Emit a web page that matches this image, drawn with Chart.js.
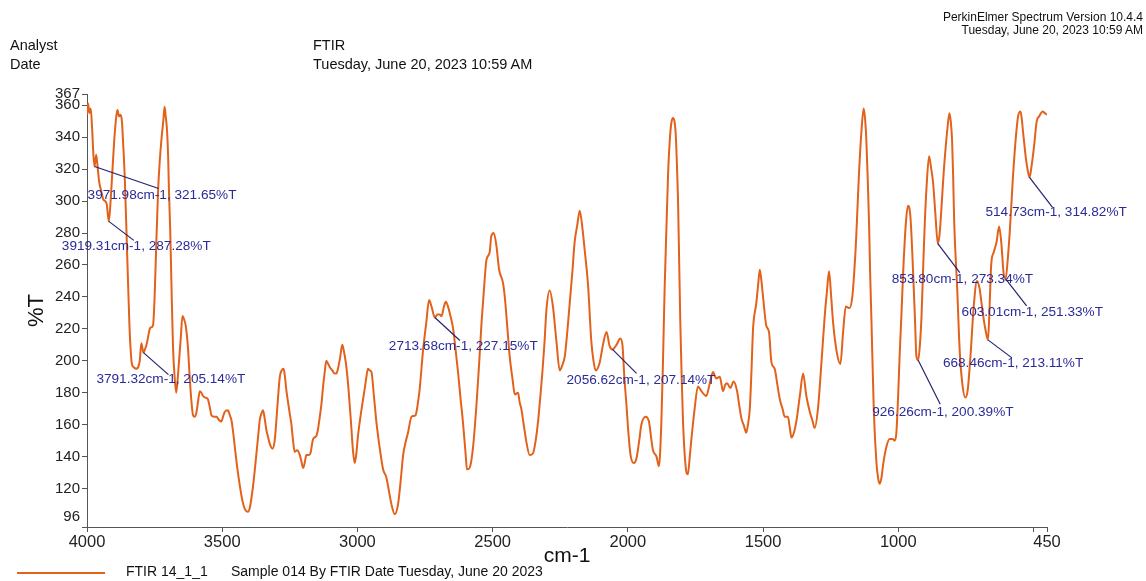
<!DOCTYPE html>
<html>
<head>
<meta charset="utf-8">
<script src="https://cdn.jsdelivr.net/npm/chart.js@4.4.1/dist/chart.umd.min.js"></script>
<style>
  html, body { margin:0; padding:0; background:#fff; }
  #wrap { position:relative; width:1146px; height:581px; overflow:hidden; font-family:"Liberation Sans", Arial, sans-serif; color:#111; }
  #c { position:absolute; left:0; top:0; }
  .t { position:absolute; white-space:nowrap; }
  .hdr { font-size:14.5px; line-height:16px; }
  .sm { font-size:12px; line-height:13px; right:3px; text-align:right; }
  .lg { font-size:14px; line-height:16px; }
</style>
</head>
<body>
<div id="wrap">
  <canvas id="c" width="1146" height="581"></canvas>
  <div class="t sm" style="top:11px">PerkinElmer Spectrum Version 10.4.4</div>
  <div class="t sm" style="top:24px">Tuesday, June 20, 2023 10:59 AM</div>
  <div class="t hdr" style="left:10px; top:37px">Analyst</div>
  <div class="t hdr" style="left:10px; top:56px">Date</div>
  <div class="t hdr" style="left:313px; top:37px">FTIR</div>
  <div class="t hdr" style="left:313px; top:56px">Tuesday, June 20, 2023 10:59 AM</div>
  <div style="position:absolute; left:17px; top:572px; width:88px; height:2px; background:#e2621b"></div>
  <div class="t lg" style="left:126px; top:563px">FTIR 14_1_1</div>
  <div class="t lg" style="left:231px; top:563px">Sample 014 By FTIR Date Tuesday, June 20 2023</div>
</div>
<script>
// ---- data ----
const wavenumbers = [4000,3996,3991,3986,3981,3976,3971.98,3966,3961,3955,3947,3940,3933,3927,3919.31,3912,3905,3898,3891,3887,3882,3876,3871,3866,3860,3853,3848,3843,3839,3834,3827,3819,3811,3805,3799,3791.32,3786,3780,3774,3768,3762,3756,3750,3744,3737,3731,3725,3718,3713,3709,3704,3700,3697,3692,3688,3682,3676,3670,3665,3660,3653,3647,3641,3635,3627,3620,3614,3608,3602,3595,3589,3583,3577,3571,3562,3553,3546,3540,3530,3521,3512,3503,3497,3491,3479,3472,3466,3460,3454,3445,3435,3426,3417,3405,3398,3392,3383,3374,3367,3361,3355,3349,3343,3337,3330,3324,3314,3306,3300,3294,3287,3280,3273,3268,3263,3253,3244,3238,3232,3223,3213,3207,3201,3195,3189,3181,3174,3164,3152,3146,3140,3133,3127,3121,3115,3108,3102,3093,3084,3078,3072,3064,3056,3050,3043,3037,3031,3024,3016,3010,3004,2998,2988,2979,2970,2961,2955,2948,2939,2930,2918,2905,2893,2883,2874,2862,2850,2840,2831,2822,2813,2800,2785,2776,2770,2757,2746,2735,2726,2713.68,2704,2696,2689,2680,2673,2665,2656,2646,2637,2628,2619,2610,2600,2595,2585,2573,2560,2550,2541,2532,2523,2511,2505,2496,2486,2476,2462,2455,2449,2437,2426,2418,2406,2400,2394,2385,2375,2363,2351,2341,2332,2324,2316,2308,2301,2289,2277,2264,2252,2243,2233,2224,2215,2205,2197,2187,2178,2168,2160,2147,2135,2127,2119,2104,2092,2079,2067,2056.62,2042,2028,2020,2013,2005,1998,1990,1978,1968,1958,1950,1934,1922,1914,1907,1894,1885,1876,1870,1864,1857,1851,1845,1839,1833,1823,1819,1814,1810,1806,1801,1796,1790,1783,1778,1771,1765,1753,1741,1728,1710,1697,1685,1673,1660,1648,1640,1633,1621,1609,1596,1588,1580,1570,1562,1556,1549,1543,1537,1525,1518,1512,1506,1500,1488,1478,1469,1457,1447,1438,1428,1420,1408,1401,1395,1386,1377,1364,1352,1340,1327,1318,1309,1297,1284,1272,1264,1256,1248,1241,1227,1214,1204,1194,1180,1170,1163,1157,1151,1145,1136,1128,1123,1118,1113,1108,1104,1099,1091,1081,1075,1069,1062,1056,1044,1032,1020,1013,1007,1000,995,988,982,972,964,955,945,938,933,926.26,920,914,908,902,895,886,878,871,862,853.80,848,844,838,832,825,819,811,806,801,797,793,782,773,764,752,743,733,721,709,699,692,684,677,668.46,664,660,656,647,637,627,619,610,603.01,594,588,582,576,569,563,557,548,543,539,534,529,522,514.73,507,498,488,479,466,458,450];
const transmittance = [354,361,355,358,345,328,321.65,329,322,312,306,301,300,298,287.28,302,322,341,354,357,353,354,350,335,313,275,248,222,208,198,196,195,196,200,211,205.14,207,210,215,220,221,222,240,272,307,325,338,350,359,353,344,328,307,280,250,209,190,180,188,199,215,228,226,222,209,189,175,166,165,168,175,181,180,178,177,176,171,166,165,165,163,162,165,168,169,166,163,156,147,134,122,113,107.5,105.5,108,114,126,141,153,163,167,169,164,157,152,148,145,150,162,176,190,194,195,190,182,170,160,150,143,144,141,137,133,136,141,141,142,151,153,157,164,173,184,193,200,198,196,194,192,192,195,202,210,206,199,190,178,162,143,136,142,153,166,176,186,195,194,193,178,162,146,132,127,118,110,104,110,125,141,149,155,165,166,174,182,207,223,238,234,227.15,229,229,228,234,237,234,228,220,207,193,177,162,142,132,133,145,172,198,224,245,263,268,278,280,272,257,249,240,228,203,188,179,180,174,170,160,149,141,142,150,162,177,193,212,232,244,234,212,194,197,203,218,236,256,274,285,294,283,270,247,212,200,194,199,210,218,209,207.14,210,214,210,190,172,155,141,136,139,150,160,165,162,152,144,140,134,162,200,245,285,318,338,349,352,342,325,297,260,224,190,162,142,130,129,140,151,170,184,181,178,186,193,189,190,181,185,186,183,187,181,172,164,159,155,160,170,193,220,236,248,257,250,240,222,218,199,195,185,176,170,165,165,158,152,155,162,178,192,178,168,163,158,170,199,228,243,256,240,224,205,198,218,234,233,240,255,272,295,318,344,358,352,338,314,286,255,224,172,137,127,123,127,135,146,151,151,150,155,180,203,230,255,286,297,290,255,225,203,200.39,210,228,258,286,310,328,320,311,290,273.34,278,286,302,318,333,344,355,350,338,315,286,245,207,187,177,182,203,234,250,245,236,226,219,213.11,226,245,261,268,274,284,274,254,251.33,266,280,297,315,332,344,353,356,351,344,336,328,320,314.82,322,334,350,353,356,355,354];

const xTickValues = [4000,3500,3000,2500,2000,1500,1000,500,450];
const xTickLabels = ['4000','3500','3000','2500','2000','1500','1000','','450'];
const yTickValues = [96,120,140,160,180,200,220,240,260,280,300,320,340,360,367];
const yTickLabels = ['96','120','140','160','180','200','220','240','260','280','300','320','340','360','367'];

// peak annotations
const peakWavenumbers = [3971.98,3919.31,3791.32,2713.68,2056.62,926.26,853.80,668.46,603.01,514.73];
const peakTransmittance = [321.65,287.28,205.14,227.15,207.14,200.39,273.34,213.11,251.33,314.82];
// label placement (pixel offsets from peak point): [lineEndDx, lineEndDy, textDx, textDy]
const peakLabelOffsets = [[64,22,-7,29],[25,19,-47,25],[25,22,-47,27],[25,23,-46,29],[24,24,-46,31],[22,44,-46,52],[22,29,-46,36],[24,18,-45,23],[21,27,-44,33],[23,30,-44,35]];

const FONT = '"Liberation Sans", Arial, sans-serif';
const ORANGE = '#e2621b';

const peakPlugin = {
  id: 'peaks',
  afterDatasetsDraw(chart) {
    const {ctx, scales:{x, y}} = chart;
    ctx.save();
    ctx.font = '13.6px ' + FONT;
    ctx.textBaseline = 'middle';
    ctx.textAlign = 'left';
    peakWavenumbers.forEach((wn, i) => {
      const px = x.getPixelForValue(wn), py = y.getPixelForValue(peakTransmittance[i]);
      const o = peakLabelOffsets[i];
      ctx.strokeStyle = '#23236e';
      ctx.lineWidth = 1.2;
      ctx.beginPath(); ctx.moveTo(px, py); ctx.lineTo(px + o[0], py + o[1]); ctx.stroke();
      ctx.fillStyle = '#2b2b98';
      ctx.fillText(wn.toFixed(2) + 'cm-1, ' + peakTransmittance[i].toFixed(2) + '%T', px + o[2], py + o[3]);
    });
    ctx.restore();
  },
  afterDraw(chart) {
    // bottom y tick label, raised to clear the x labels
    const {ctx, scales:{y}} = chart;
    ctx.save();
    ctx.font = '15px ' + FONT;
    ctx.fillStyle = '#222';
    ctx.textAlign = 'right';
    ctx.textBaseline = 'middle';
    ctx.fillText(yTickLabels[0], y.right - 7, y.getPixelForValue(yTickValues[0]) - 10);
    ctx.restore();
  }
};

new Chart(document.getElementById('c'), {
  type: 'line',
  data: {
    datasets: [{
      data: wavenumbers.map((w, i) => ({x: w, y: transmittance[i]})),
      borderColor: ORANGE,
      borderWidth: 2,
      pointRadius: 0,
      cubicInterpolationMode: 'monotone',
      fill: false
    }]
  },
  options: {
    responsive: false,
    animation: false,
    devicePixelRatio: 1,
    layout: { padding: { top: 94, right: 99, left: 0, bottom: 0 } },
    plugins: { legend: { display: false }, tooltip: { enabled: false } },
    scales: {
      x: {
        type: 'linear', reverse: true, min: 450, max: 4000,
        afterBuildTicks(s) { s.ticks = xTickValues.map(v => ({value: v})); },
        afterFit(s) { s.height = 54; },
        ticks: {
          autoSkip: false, maxRotation: 0, padding: 1, color: '#222',
          font: { family: FONT, size: 16.5 },
          callback(v) { const k = xTickValues.indexOf(v); return k >= 0 ? xTickLabels[k] : ''; }
        },
        grid: { drawOnChartArea: false, drawTicks: true, tickLength: 5, color: '#555' },
        border: { display: true, color: '#555', width: 1 },
        title: { display: true, text: 'cm-1', color: '#111', font: { family: FONT, size: 21 }, padding: { top: 0, bottom: 12 } }
      },
      y: {
        type: 'linear', min: 96, max: 367,
        afterBuildTicks(s) { s.ticks = yTickValues.map(v => ({value: v})); },
        afterFit(s) { s.width = 87; },
        ticks: {
          autoSkip: false, padding: 2, color: '#222',
          font: { family: FONT, size: 15 },
          callback(v) { const k = yTickValues.indexOf(v); return k > 0 ? yTickLabels[k] : ''; }
        },
        grid: { drawOnChartArea: false, drawTicks: true, tickLength: 5, color: '#555' },
        border: { display: true, color: '#555', width: 1 },
        title: { display: true, text: '%T', color: '#111', font: { family: FONT, size: 22 }, padding: { top: 24, bottom: 0 } }
      }
    }
  },
  plugins: [peakPlugin]
});
</script>
</body>
</html>
